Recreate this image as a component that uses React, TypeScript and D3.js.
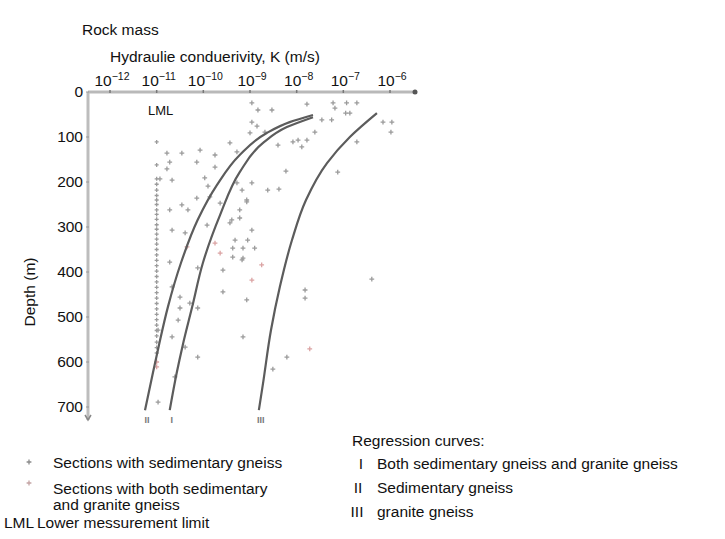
import React from "react";
import * as d3 from "d3";

// Hydraulic conductivity exponents (log10 K, m/s) paired with depth (m)
const sedimentaryLogK = [
  -8.96, -8.83, -8.53, -8.96, -8.85, -9.0, -8.68, -7.78, -7.22, -6.93, -6.71, -7.18, -6.95, -6.86,
  -7.46, -7.25, -7.61, -8.08, -7.97, -7.78, -7.89, -8.4, -6.15, -5.96, -5.98, -6.71, -7.12, -8.23,
  -8.62, -8.38, -9.43, -9.75, -9.28,
  -10.78, -10.46, -10.72, -10.78, -10.93, -10.67, -10.07, -10.14, -9.97, -9.75, -10.14, -10.46,
  -10.72, -10.33, -9.9, -9.86, -9.64, -9.07, -9.22, -9.39, -8.96, -9.17, -9.28,
  -10.67, -10.39, -9.92, -9.32, -9.15, -9.37, -9.17, -8.96, -8.9, -9.05, -9.22, -9.43, -9.58,
  -10.72, -10.67, -10.5, -10.5, -10.29, -10.12, -9.58, -9.07, -10.54, -10.67, -9.15, -10.39,
  -10.12, -10.12, -10.97, -10.61, -10.97, -9.37, -9.15,
  -7.82, -7.82, -6.39, -8.21, -8.51, -9.07,
];
const sedimentaryDepth = [
  24, 40, 40, 67, 76, 91, 89, 27, 24, 24, 24, 36, 47, 47,
  62, 62, 89, 111, 107, 107, 122, 118, 67, 67, 89, 111, 178, 176,
  218, 216, 113, 140, 133,
  136, 136, 156, 171, 193, 196, 129, 156, 191, 167, 236, 251,
  262, 262, 209, 233, 247, 240, 262, 284, 202, 218, 202,
  307, 313, 296, 329, 347, 347, 373, 307, 347, 329, 280, 291, 396,
  378, 433, 456, 480, 469, 480, 444, 462, 507, 544, 544, 567,
  589, 391, 529, 633, 689, 367, 369,
  440, 458, 416, 589, 616, 244,
];

const mixedLogK = [-9.75, -9.64, -8.96, -8.75, -7.72, -10.35, -11.0, -11.0];
const mixedDepth = [336, 358, 418, 384, 571, 344, 611, 600];

// Sections at the lower measurement limit (K = 1e-11 m/s)
const lmlLogK = -11;
const lmlDepth = [
  111, 162, 193, 205, 218, 230, 240, 250, 262, 272, 283, 295, 305, 316, 327, 338, 350, 362,
  374, 386, 398, 410, 422, 434, 446, 458, 470, 482, 494, 506, 518, 530, 542, 556, 568, 580,
];

// Regression curves
const curveNames = ["II", "I", "III"];
const curveLogK = [
  [-7.65, -8.15, -8.64, -9.22, -9.71, -10.12, -10.48, -10.76, -10.95, -11.08, -11.25],
  [-7.65, -8.21, -8.72, -9.22, -9.64, -10.01, -10.24, -10.44, -10.57, -10.72],
  [-6.28, -6.86, -7.35, -7.8, -8.1, -8.36, -8.55, -8.72, -8.81],
];
const curveDepth = [
  [51, 67, 91, 140, 207, 284, 380, 478, 562, 624, 707],
  [56, 78, 113, 178, 273, 380, 478, 562, 624, 707],
  [47, 100, 158, 240, 329, 433, 529, 647, 707],
];

const kExponents = [-12, -11, -10, -9, -8, -7, -6];
const depthTicks = [0, 100, 200, 300, 400, 500, 600, 700];

const FONT = "'Liberation Sans', Arial, Helvetica, sans-serif";

export default function App() {
  const x = d3.scaleLog().domain([1e-12, 1e-6]).range([110, 390]);
  const y = d3.scaleLinear().domain([0, 700]).range([92, 407]);
  const px = (e: number) => x(Math.pow(10, e));

  const line = d3
    .line<[number, number]>()
    .x((d) => px(d[0]))
    .y((d) => y(d[1]))
    .curve(d3.curveMonotoneY);

  const plus = (cx: number, cy: number, r = 2.4) =>
    `M${cx - r},${cy}h${2 * r}M${cx},${cy - r}v${2 * r}`;

  const x0 = 88;
  const xEnd = 415;
  const yBottom = 420;

  const textStyle = { fontFamily: FONT, fontSize: 15.5, fill: "#111" };

  return (
    <svg
      width={725}
      height={539}
      style={{ position: "absolute", left: 0, top: 0, background: "#fff" }}
    >
      <text x={82} y={35} {...textStyle}>Rock mass</text>
      <text x={110} y={62} {...textStyle}>Hydraulie conduerivity, K (m/s)</text>

      {/* x axis */}
      <line x1={x0} x2={xEnd} y1={y(0)} y2={y(0)} stroke="#b9b9b9" strokeWidth={3} />
      <circle cx={xEnd} cy={y(0)} r={2.5} fill="#555" />
      {kExponents.map((e) => (
        <g key={e}>
          <line x1={px(e)} x2={px(e)} y1={y(0) - 2} y2={y(0) + 1} stroke="#777" strokeWidth={1.5} />
          <text x={px(e) + 2} y={86} textAnchor="middle" {...textStyle}>
            <tspan>10</tspan>
            <tspan dy={-6} fontSize={10.5}>{`\u2212${-e}`}</tspan>
          </text>
        </g>
      ))}

      {/* y axis */}
      <line x1={x0} x2={x0} y1={y(0)} y2={yBottom} stroke="#bdbdbd" strokeWidth={3} />
      <path d={`M${x0 - 3},${yBottom - 5}L${x0},${yBottom}L${x0 + 3},${yBottom - 5}`} fill="none" stroke="#888" strokeWidth={1.5} />
      {depthTicks.map((t) => (
        <g key={t}>
          <line x1={x0 - 2} x2={x0 + 1} y1={y(t)} y2={y(t)} stroke="#999" strokeWidth={1} />
          <text x={83} y={y(t) + 5} textAnchor="end" {...textStyle}>{t}</text>
        </g>
      ))}
      <text
        transform={`translate(35,292) rotate(-90)`}
        textAnchor="middle"
        {...textStyle}
      >
        Depth (m)
      </text>

      <text x={148} y={115} fontFamily={FONT} fontSize={13} fill="#111">LML</text>

      {/* measurements */}
      <g stroke="#8a8a8a" strokeWidth={1.3} opacity={0.85}>
        {lmlDepth.map((d, i) => (
          <path key={`l${i}`} d={plus(px(lmlLogK), y(d), 2)} />
        ))}
        {sedimentaryLogK.map((k, i) => (
          <path key={`s${i}`} d={plus(px(k), y(sedimentaryDepth[i]))} />
        ))}
      </g>
      <g stroke="#d89a9a" strokeWidth={1.3} opacity={0.9}>
        {mixedLogK.map((k, i) => (
          <path key={`m${i}`} d={plus(px(k), y(mixedDepth[i]))} />
        ))}
      </g>

      {/* regression curves */}
      {curveLogK.map((ks, ci) => {
        const pts = ks.map((k, i) => [k, curveDepth[ci][i]] as [number, number]);
        const last = pts[pts.length - 1];
        return (
          <g key={ci}>
            <path d={line(pts) ?? ""} fill="none" stroke="#5c5c5c" strokeWidth={2.2} />
            <text
              x={px(last[0]) + 2}
              y={y(last[1]) + 13}
              textAnchor="middle"
              fontFamily={FONT}
              fontSize={9}
              fontWeight="bold"
              fill="#777"
            >
              {curveNames[ci]}
            </text>
          </g>
        );
      })}

      {/* legend */}
      <path d={plus(29, 462)} stroke="#8a8a8a" strokeWidth={1.3} />
      <path d={plus(29, 483)} stroke="#c4a4a4" strokeWidth={1.3} />
      <text x={53} y={468} {...textStyle}>Sections with sedimentary gneiss</text>
      <text x={53} y={494} {...textStyle}>Sections with both sedimentary</text>
      <text x={53} y={510} {...textStyle}>and granite gneiss</text>
      <text x={4} y={528} {...textStyle}>LML</text>
      <text x={37} y={528} {...textStyle}>Lower messurement limit</text>

      <text x={352} y={446} {...textStyle}>Regression curves:</text>
      <text x={361} y={469} textAnchor="middle" {...textStyle}>I</text>
      <text x={377} y={469} {...textStyle}>Both sedimentary gneiss and granite gneiss</text>
      <text x={358} y={493} textAnchor="middle" {...textStyle}>II</text>
      <text x={377} y={493} {...textStyle}>Sedimentary gneiss</text>
      <text x={357} y={517} textAnchor="middle" {...textStyle}>III</text>
      <text x={377} y={517} {...textStyle}>granite gneiss</text>
    </svg>
  );
}
